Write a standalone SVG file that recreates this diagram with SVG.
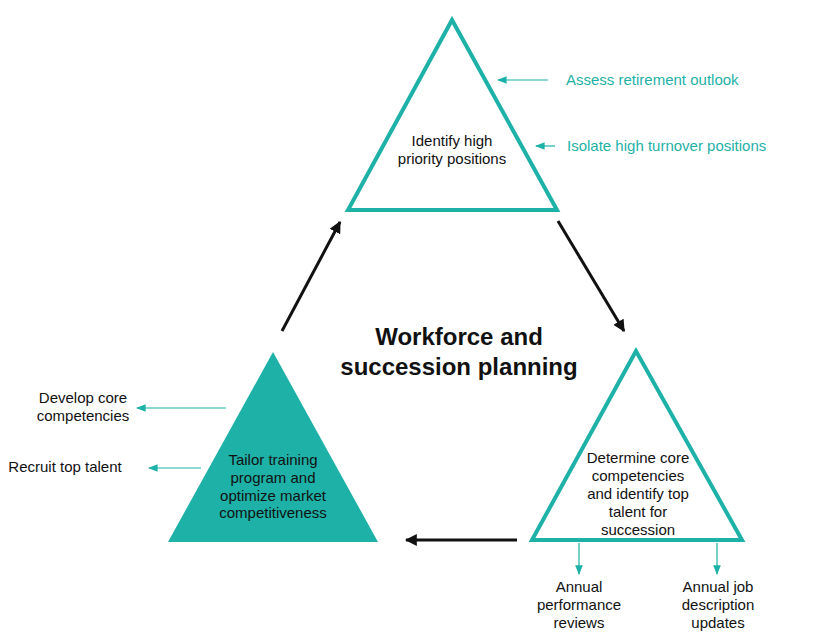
<svg xmlns="http://www.w3.org/2000/svg" width="829" height="637" viewBox="0 0 829 637">
<defs>
<style>
.t{font-family:"Liberation Sans",Arial,sans-serif;font-size:15px;fill:#111;text-anchor:middle}
.tl{font-family:"Liberation Sans",Arial,sans-serif;font-size:15px;fill:#1eb1a7}
.title{font-family:"Liberation Sans",Arial,sans-serif;font-size:24px;font-weight:bold;fill:#111;text-anchor:middle}
.tri{fill:#fff;stroke:#1eb1a7;stroke-width:4;stroke-linejoin:miter}
.blk{stroke:#111;stroke-width:3;fill:none}
.tea{stroke:#1eb1a7;stroke-width:1.2;fill:none}
</style>
<marker id="ab" viewBox="0 0 10 10" refX="9" refY="5" markerWidth="4" markerHeight="4" orient="auto" markerUnits="strokeWidth"><path d="M0,0 L10,5 L0,10 z" fill="#111"/></marker>
<marker id="at" viewBox="0 0 10 10" refX="9" refY="5" markerWidth="8" markerHeight="8" orient="auto" markerUnits="strokeWidth"><path d="M0,1 L10,5 L0,9 z" fill="#1eb1a7"/></marker>
</defs>
<rect width="829" height="637" fill="#fff"/>
<g id="title"><text class="title" x="459" y="345">Workforce and</text><text class="title" x="459" y="375">succession planning</text></g>
<g id="node-top"><polygon class="tri" points="452,20 348,210 557,210"/><text class="t" x="452" y="146">Identify high</text><text class="t" x="452" y="164">priority positions</text></g>
<g id="node-right"><polygon class="tri" points="636,351 532,540 742,540"/><text class="t" x="638" y="463">Determine core</text><text class="t" x="638" y="481">competencies</text><text class="t" x="638" y="499">and identify top</text><text class="t" x="638" y="517">talent for</text><text class="t" x="638" y="535">succession</text></g>
<g id="node-left"><polygon points="273,352 168,542 378,542" fill="#1eb1a7"/><text class="t" x="273" y="465">Tailor training</text><text class="t" x="273" y="483">program and</text><text class="t" x="273" y="501">optimize market</text><text class="t" x="273" y="518">competitiveness</text></g>
<g id="labels">
<text class="tl" x="566" y="85">Assess retirement outlook</text>
<text class="tl" x="567" y="151">Isolate high turnover positions</text>
<text class="t" x="83" y="403">Develop core</text><text class="t" x="83" y="421">competencies</text>
<text class="t" x="65" y="472">Recruit top talent</text>
<text class="t" x="579" y="592">Annual</text><text class="t" x="579" y="610">performance</text><text class="t" x="579" y="628">reviews</text>
<text class="t" x="718" y="592">Annual job</text><text class="t" x="718" y="610">description</text><text class="t" x="718" y="628">updates</text>
</g>
<g id="connectors">
<line class="blk" x1="282" y1="331" x2="340" y2="222" marker-end="url(#ab)"/>
<line class="blk" x1="558" y1="221" x2="624" y2="331" marker-end="url(#ab)"/>
<line class="blk" x1="517" y1="540" x2="406" y2="540" marker-end="url(#ab)"/>
<line class="tea" x1="548" y1="80" x2="498" y2="80" marker-end="url(#at)"/>
<line class="tea" x1="555" y1="146" x2="536" y2="146" marker-end="url(#at)"/>
<line class="tea" x1="226" y1="408" x2="137" y2="408" marker-end="url(#at)"/>
<line class="tea" x1="201" y1="468" x2="149" y2="468" marker-end="url(#at)"/>
<line class="tea" x1="579" y1="543" x2="579" y2="574" marker-end="url(#at)"/>
<line class="tea" x1="717" y1="543" x2="717" y2="574" marker-end="url(#at)"/>
</g>
</svg>
